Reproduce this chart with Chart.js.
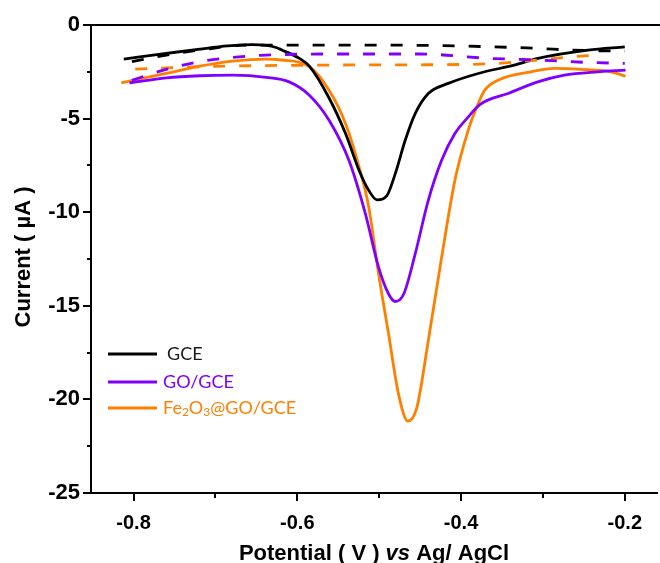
<!DOCTYPE html>
<html>
<head>
<meta charset="utf-8">
<script src="https://cdn.jsdelivr.net/npm/chart.js@4.4.1/dist/chart.umd.min.js"></script>
<style>
  html, body { margin: 0; padding: 0; background: #fff; }
  #wrap { width: 660px; height: 563px; }
</style>
</head>
<body>
<div id="wrap"><canvas id="c" width="660" height="563"></canvas></div>
<script>
// Differential pulse voltammograms: potential (V vs Ag/AgCl) and current (µA)
const gceV  = [-0.812, -0.760, -0.719, -0.685, -0.655, -0.638, -0.626, -0.6196, -0.5975, -0.5853, -0.5612, -0.5411, -0.5245, -0.5127, -0.5027, -0.4906, -0.4804, -0.4682, -0.456, -0.440, -0.4156, -0.379, -0.335, -0.306, -0.245, -0.2];
const gceI  = [-1.82, -1.52, -1.29, -1.12, -1.05, -1.09, -1.20, -1.32, -1.78, -2.20, -3.90, -5.80, -7.77, -8.84, -9.34, -9.11, -7.95, -6.16, -4.73, -3.66, -3.12, -2.59, -2.14, -1.78, -1.34, -1.17];

const goV   = [-0.805, -0.760, -0.719, -0.679, -0.638, -0.610, -0.5853, -0.5612, -0.537, -0.5168, -0.5007, -0.4885, -0.4804, -0.470, -0.456, -0.440, -0.4237, -0.4075, -0.3912, -0.377, -0.3427, -0.3062, -0.2738, -0.2333, -0.199];
const goI   = [-3.09, -2.82, -2.71, -2.68, -2.80, -3.04, -3.75, -5.09, -7.23, -10.09, -12.95, -14.37, -14.77, -14.37, -12.23, -9.37, -7.23, -5.80, -4.91, -4.25, -3.66, -3.04, -2.68, -2.50, -2.41];

const feV   = [-0.815, -0.760, -0.719, -0.679, -0.638, -0.6196, -0.5853, -0.5612, -0.541, -0.5245, -0.5127, -0.5007, -0.4885, -0.4763, -0.465, -0.454, -0.440, -0.4237, -0.4075, -0.3912, -0.379, -0.371, -0.3548, -0.3143, -0.2859, -0.2535, -0.217, -0.199];
const feI   = [-3.09, -2.59, -2.20, -1.93, -1.82, -1.87, -2.23, -3.48, -5.27, -7.59, -9.73, -13.30, -16.51, -19.73, -21.16, -20.44, -16.87, -12.41, -8.30, -5.62, -4.19, -3.48, -2.95, -2.50, -2.32, -2.37, -2.50, -2.73];

// Blank (dashed) scans
const gceBlankV = [-0.802, -0.760, -0.719, -0.660, -0.600, -0.500, -0.430, -0.3667, -0.306, -0.2657, -0.2];
const gceBlankI = [-1.96, -1.61, -1.34, -1.07, -1.07, -1.07, -1.10, -1.16, -1.25, -1.34, -1.40];
const goBlankV  = [-0.802, -0.760, -0.719, -0.679, -0.638, -0.560, -0.450, -0.3667, -0.306, -0.245, -0.2];
const goBlankI  = [-2.95, -2.37, -1.96, -1.73, -1.61, -1.55, -1.55, -1.78, -1.87, -2.00, -2.05];
const feBlankV  = [-0.798, -0.719, -0.560, -0.400, -0.3548, -0.306, -0.2657, -0.2329];
const feBlankI  = [-2.36, -2.23, -2.14, -2.11, -2.05, -1.87, -1.70, -1.61];

const xMajor = [-0.8, -0.6, -0.4, -0.2];
const xMinor = [-0.7, -0.5, -0.3];
const yMajor = [0, -5, -10, -15, -20, -25];
const yMinor = [-2.5, -7.5, -12.5, -17.5, -22.5];

const legendNames = ['GCE', 'GO/GCE', 'Fe2O3@GO/GCE'];
const BLACK = '#000000', PURPLE = '#7F00FF', ORANGE = '#FF7F00';

const pts = (xs, ys) => xs.map((x, i) => ({ x: x, y: ys[i] }));

function line(label, xs, ys, color, dashed) {
  return {
    label: label,
    data: pts(xs, ys),
    borderColor: color,
    backgroundColor: color,
    borderWidth: 2.8,
    borderDash: dashed ? [12, 14] : [],
    pointRadius: 0,
    fill: false,
    cubicInterpolationMode: 'monotone'
  };
}

const decorations = {
  id: 'decorations',
  afterDraw(chart) {
    const ctx = chart.ctx;
    const xs = chart.scales.x, ys = chart.scales.y;
    const a = chart.chartArea;
    ctx.save();
    ctx.strokeStyle = '#000';
    // top frame line
    ctx.lineWidth = 2;
    ctx.beginPath();
    ctx.moveTo(a.left, a.top);
    ctx.lineTo(chart.width, a.top);
    ctx.stroke();
    // x tick marks (outward)
    xMajor.forEach(v => {
      const p = Math.round(xs.getPixelForValue(v));
      ctx.beginPath(); ctx.moveTo(p, a.bottom); ctx.lineTo(p, a.bottom + 8); ctx.stroke();
    });
    xMinor.forEach(v => {
      const p = Math.round(xs.getPixelForValue(v));
      ctx.beginPath(); ctx.moveTo(p, a.bottom); ctx.lineTo(p, a.bottom + 5); ctx.stroke();
    });
    // y tick marks (outward)
    yMajor.forEach(v => {
      const p = Math.round(ys.getPixelForValue(v));
      ctx.beginPath(); ctx.moveTo(a.left, p); ctx.lineTo(a.left - 8, p); ctx.stroke();
    });
    yMinor.forEach(v => {
      const p = Math.round(ys.getPixelForValue(v));
      ctx.beginPath(); ctx.moveTo(a.left, p); ctx.lineTo(a.left - 4, p); ctx.stroke();
    });

    // x axis title with italic "vs"
    ctx.fillStyle = '#000';
    ctx.textBaseline = 'alphabetic';
    const parts = [
      ['Potential ( V ) ', 'bold 22px "Liberation Sans"'],
      ['vs', 'italic bold 22px "Liberation Sans"'],
      [' Ag/ AgCl', 'bold 22px "Liberation Sans"']
    ];
    let total = 0;
    parts.forEach(p => { ctx.font = p[1]; total += ctx.measureText(p[0]).width; });
    let x0 = 374 - total / 2;
    parts.forEach(p => {
      ctx.font = p[1]; ctx.textAlign = 'left';
      ctx.fillText(p[0], x0, 560);
      x0 += ctx.measureText(p[0]).width;
    });

    // y axis title
    ctx.save();
    ctx.translate(24, 257);
    ctx.rotate(-Math.PI / 2);
    ctx.font = 'bold 22px "Liberation Sans"';
    ctx.textAlign = 'center';
    ctx.textBaseline = 'middle';
    ctx.fillText('Current ( \u00B5A )', 0, 0);
    ctx.restore();

    // legend
    const rows = [
      { y: 354, color: BLACK, text: '#1a1a1a', tx: 167 },
      { y: 382, color: PURPLE, text: PURPLE, tx: 163 },
      { y: 408, color: ORANGE, text: ORANGE, tx: 163 }
    ];
    rows.forEach((r, i) => {
      ctx.strokeStyle = r.color;
      ctx.lineWidth = 3;
      ctx.beginPath(); ctx.moveTo(108, r.y); ctx.lineTo(157, r.y); ctx.stroke();
      ctx.fillStyle = r.text;
      ctx.textAlign = 'left';
      ctx.textBaseline = 'middle';
      const name = legendNames[i];
      if (name === 'Fe2O3@GO/GCE') {
        let x = r.tx;
        const seq = [['Fe', 0, 18], ['2', 4, 12], ['O', 0, 18], ['3', 4, 12], ['@GO/GCE', 0, 18]];
        seq.forEach(s => {
          ctx.font = s[2] + 'px Lato';
          ctx.fillText(s[0], x, r.y + s[1]);
          x += ctx.measureText(s[0]).width;
        });
      } else {
        ctx.font = '18px Lato';
        ctx.fillText(name, r.tx, r.y);
      }
    });
    ctx.restore();
  }
};

new Chart(document.getElementById('c'), {
  type: 'line',
  data: {
    datasets: [
      line('GCE blank', gceBlankV, gceBlankI, BLACK, true),
      line('GO/GCE blank', goBlankV, goBlankI, PURPLE, true),
      line('Fe2O3@GO/GCE blank', feBlankV, feBlankI, ORANGE, true),
      line(legendNames[0], gceV, gceI, BLACK, false),
      line(legendNames[1], goV, goI, PURPLE, false),
      line(legendNames[2], feV, feI, ORANGE, false)
    ]
  },
  options: {
    responsive: false,
    animation: false,
    devicePixelRatio: 1,
    layout: { padding: { top: 25, right: 0, left: 0, bottom: 0 } },
    plugins: { legend: { display: false }, tooltip: { enabled: false } },
    scales: {
      x: {
        type: 'linear',
        min: -0.852,
        max: -0.16,
        grid: { display: false, drawTicks: false },
        border: { display: true, color: '#000', width: 2 },
        afterBuildTicks: s => { s.ticks = xMajor.map(v => ({ value: v })); },
        afterFit: s => { s.height = 70; },
        ticks: {
          autoSkip: false, maxRotation: 0, color: '#000', padding: 18,
          font: { family: 'Liberation Sans', size: 20, weight: 'bold' },
          callback: v => v.toFixed(1)
        }
      },
      y: {
        type: 'linear',
        min: -25,
        max: 0,
        grid: { display: false, drawTicks: false },
        border: { display: true, color: '#000', width: 2 },
        afterBuildTicks: s => { s.ticks = yMajor.map(v => ({ value: v })); },
        afterFit: s => { s.width = 91; },
        ticks: {
          autoSkip: false, color: '#000', padding: 11,
          font: { family: 'Liberation Sans', size: 22, weight: 'bold' },
          callback: v => String(v)
        }
      }
    }
  },
  plugins: [decorations]
});
</script>
</body>
</html>
